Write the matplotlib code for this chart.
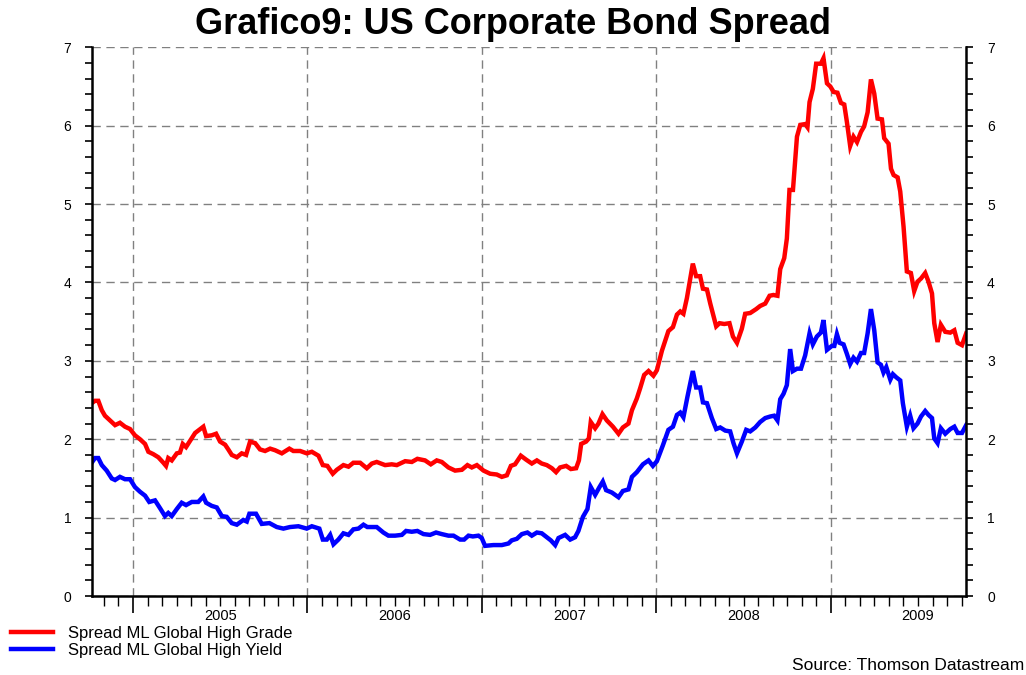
import matplotlib
matplotlib.use('Agg')
import matplotlib.pyplot as plt
from matplotlib.ticker import MultipleLocator, FixedLocator

plt.rcParams['font.family'] = ['Liberation Sans', 'DejaVu Sans']

# dates as decimal years, spreads in percentage points
hg_dates = [2004.763, 2004.782, 2004.801, 2004.821, 2004.839, 2004.868, 2004.897, 2004.925, 2004.954, 2004.983,
            2005.011, 2005.040, 2005.069, 2005.088, 2005.116, 2005.145, 2005.174, 2005.189, 2005.202, 2005.222,
            2005.251, 2005.269, 2005.285, 2005.304, 2005.327, 2005.356, 2005.380, 2005.403, 2005.419, 2005.451,
            2005.476, 2005.499, 2005.528, 2005.546, 2005.566, 2005.595, 2005.623, 2005.648, 2005.671, 2005.700,
            2005.728, 2005.757, 2005.786, 2005.814, 2005.853, 2005.896, 2005.919, 2005.958, 2005.996, 2006.025,
            2006.063, 2006.088, 2006.114, 2006.145, 2006.168, 2006.206, 2006.235, 2006.263, 2006.302, 2006.340,
            2006.369, 2006.397, 2006.445, 2006.483, 2006.512, 2006.560, 2006.598, 2006.630, 2006.674, 2006.707,
            2006.741, 2006.770, 2006.808, 2006.846, 2006.885, 2006.917, 2006.942, 2006.971, 2007.009, 2007.047,
            2007.085, 2007.114, 2007.143, 2007.166, 2007.190, 2007.223, 2007.253, 2007.286, 2007.315, 2007.343,
            2007.372, 2007.401, 2007.425, 2007.448, 2007.483, 2007.510, 2007.540, 2007.556, 2007.569, 2007.597,
            2007.613, 2007.624, 2007.649, 2007.668, 2007.691, 2007.716, 2007.751, 2007.783, 2007.808, 2007.840,
            2007.860, 2007.888, 2007.907, 2007.930, 2007.955, 2007.983, 2008.003, 2008.032, 2008.069, 2008.095,
            2008.118, 2008.137, 2008.155, 2008.175, 2008.209, 2008.228, 2008.251, 2008.267, 2008.290, 2008.309,
            2008.343, 2008.362, 2008.389, 2008.419, 2008.439, 2008.462, 2008.490, 2008.509, 2008.538, 2008.572,
            2008.595, 2008.624, 2008.649, 2008.671, 2008.694, 2008.710, 2008.733, 2008.748, 2008.763, 2008.783,
            2008.806, 2008.825, 2008.853, 2008.866, 2008.878, 2008.897, 2008.916, 2008.943, 2008.958, 2008.978,
            2008.997, 2009.016, 2009.038, 2009.058, 2009.077, 2009.092, 2009.111, 2009.130, 2009.150, 2009.173,
            2009.191, 2009.211, 2009.230, 2009.249, 2009.268, 2009.293, 2009.306, 2009.331, 2009.345, 2009.360,
            2009.383, 2009.398, 2009.417, 2009.436, 2009.459, 2009.478, 2009.497, 2009.517, 2009.541, 2009.560,
            2009.580, 2009.593, 2009.612, 2009.631, 2009.656, 2009.685, 2009.708, 2009.727, 2009.752, 2009.776]
hg_values = [2.46, 2.49, 2.49, 2.37, 2.30, 2.24, 2.18, 2.21, 2.16, 2.13,
             2.05, 2.00, 1.94, 1.84, 1.81, 1.77, 1.70, 1.66, 1.76, 1.73,
             1.82, 1.83, 1.94, 1.90, 1.98, 2.08, 2.12, 2.16, 2.04, 2.05,
             2.07, 1.97, 1.93, 1.87, 1.80, 1.77, 1.82, 1.80, 1.97, 1.95,
             1.87, 1.85, 1.88, 1.86, 1.82, 1.88, 1.85, 1.85, 1.82, 1.84,
             1.79, 1.67, 1.66, 1.56, 1.61, 1.67, 1.65, 1.70, 1.70, 1.63,
             1.69, 1.71, 1.67, 1.68, 1.67, 1.72, 1.71, 1.75, 1.73, 1.68,
             1.73, 1.71, 1.64, 1.60, 1.61, 1.67, 1.64, 1.67, 1.60, 1.56,
             1.55, 1.52, 1.54, 1.66, 1.68, 1.79, 1.74, 1.69, 1.73, 1.69,
             1.67, 1.63, 1.58, 1.64, 1.66, 1.62, 1.63, 1.73, 1.94, 1.97,
             2.01, 2.22, 2.14, 2.20, 2.32, 2.24, 2.16, 2.07, 2.15, 2.20,
             2.37, 2.52, 2.65, 2.82, 2.87, 2.81, 2.88, 3.13, 3.38, 3.43,
             3.59, 3.63, 3.60, 3.80, 4.24, 4.08, 4.08, 3.92, 3.91, 3.73,
             3.44, 3.48, 3.47, 3.48, 3.31, 3.23, 3.41, 3.60, 3.61, 3.66,
             3.70, 3.73, 3.83, 3.84, 3.83, 4.17, 4.31, 4.56, 5.18, 5.18,
             5.86, 6.01, 6.02, 5.98, 6.30, 6.47, 6.79, 6.79, 6.86, 6.54,
             6.50, 6.43, 6.42, 6.29, 6.27, 6.05, 5.74, 5.86, 5.79, 5.92,
             5.99, 6.17, 6.59, 6.41, 6.09, 6.08, 5.84, 5.77, 5.45, 5.37,
             5.34, 5.16, 4.71, 4.14, 4.12, 3.89, 4.01, 4.05, 4.12, 4.01,
             3.86, 3.48, 3.24, 3.46, 3.37, 3.36, 3.39, 3.23, 3.20, 3.35]

hy_dates = [2004.763, 2004.782, 2004.801, 2004.821, 2004.849, 2004.878, 2004.897, 2004.925, 2004.954, 2004.983,
            2005.011, 2005.040, 2005.069, 2005.093, 2005.126, 2005.155, 2005.183, 2005.202, 2005.222, 2005.251,
            2005.279, 2005.304, 2005.337, 2005.374, 2005.403, 2005.419, 2005.451, 2005.480, 2005.509, 2005.537,
            2005.566, 2005.595, 2005.632, 2005.652, 2005.667, 2005.705, 2005.738, 2005.782, 2005.824, 2005.862,
            2005.900, 2005.948, 2005.996, 2006.025, 2006.068, 2006.088, 2006.111, 2006.130, 2006.149, 2006.177,
            2006.206, 2006.235, 2006.263, 2006.292, 2006.321, 2006.343, 2006.397, 2006.435, 2006.464, 2006.502,
            2006.541, 2006.565, 2006.598, 2006.630, 2006.665, 2006.703, 2006.737, 2006.770, 2006.808, 2006.837,
            2006.875, 2006.898, 2006.923, 2006.948, 2006.980, 2006.999, 2007.018, 2007.066, 2007.114, 2007.152,
            2007.171, 2007.200, 2007.229, 2007.261, 2007.286, 2007.315, 2007.343, 2007.372, 2007.395, 2007.420,
            2007.439, 2007.477, 2007.506, 2007.534, 2007.553, 2007.579, 2007.605, 2007.624, 2007.649, 2007.674,
            2007.693, 2007.712, 2007.745, 2007.783, 2007.808, 2007.840, 2007.860, 2007.888, 2007.923, 2007.955,
            2007.980, 2008.003, 2008.037, 2008.069, 2008.095, 2008.118, 2008.137, 2008.155, 2008.178, 2008.209,
            2008.228, 2008.251, 2008.267, 2008.290, 2008.318, 2008.343, 2008.366, 2008.395, 2008.423, 2008.442,
            2008.462, 2008.490, 2008.515, 2008.538, 2008.567, 2008.595, 2008.624, 2008.653, 2008.675, 2008.694,
            2008.710, 2008.729, 2008.748, 2008.767, 2008.783, 2008.806, 2008.829, 2008.853, 2008.878, 2008.897,
            2008.920, 2008.943, 2008.958, 2008.978, 2009.006, 2009.020, 2009.035, 2009.050, 2009.073, 2009.092,
            2009.111, 2009.130, 2009.150, 2009.173, 2009.191, 2009.211, 2009.230, 2009.249, 2009.268, 2009.287,
            2009.302, 2009.318, 2009.341, 2009.356, 2009.375, 2009.398, 2009.413, 2009.436, 2009.455, 2009.474,
            2009.497, 2009.517, 2009.541, 2009.560, 2009.580, 2009.593, 2009.612, 2009.631, 2009.656, 2009.685,
            2009.708, 2009.727, 2009.752, 2009.776]
hy_values = [1.70, 1.76, 1.76, 1.67, 1.60, 1.50, 1.48, 1.52, 1.49, 1.49,
             1.39, 1.33, 1.28, 1.20, 1.22, 1.12, 1.02, 1.06, 1.02, 1.11,
             1.19, 1.16, 1.20, 1.20, 1.27, 1.19, 1.15, 1.13, 1.02, 1.01,
             0.93, 0.91, 0.97, 0.95, 1.05, 1.05, 0.92, 0.93, 0.88, 0.86,
             0.88, 0.89, 0.86, 0.89, 0.86, 0.72, 0.72, 0.78, 0.66, 0.72,
             0.80, 0.78, 0.85, 0.86, 0.91, 0.88, 0.88, 0.81, 0.77, 0.77,
             0.78, 0.83, 0.82, 0.83, 0.79, 0.78, 0.81, 0.79, 0.77, 0.77,
             0.72, 0.72, 0.77, 0.76, 0.77, 0.74, 0.64, 0.65, 0.65, 0.67,
             0.71, 0.73, 0.79, 0.81, 0.77, 0.81, 0.80, 0.75, 0.71, 0.65,
             0.74, 0.78, 0.72, 0.75, 0.83, 1.01, 1.11, 1.39, 1.29, 1.39,
             1.46, 1.35, 1.32, 1.26, 1.34, 1.36, 1.52, 1.58, 1.68, 1.73,
             1.66, 1.72, 1.92, 2.12, 2.16, 2.31, 2.34, 2.28, 2.54, 2.87,
             2.66, 2.66, 2.47, 2.46, 2.27, 2.13, 2.15, 2.11, 2.10, 1.95,
             1.82, 1.97, 2.12, 2.10, 2.15, 2.22, 2.27, 2.29, 2.30, 2.24,
             2.51, 2.58, 2.69, 3.15, 2.87, 2.90, 2.90, 3.07, 3.35, 3.21,
             3.31, 3.36, 3.52, 3.14, 3.19, 3.19, 3.34, 3.23, 3.21, 3.09,
             2.96, 3.04, 2.99, 3.10, 3.10, 3.35, 3.66, 3.39, 2.98, 2.95,
             2.85, 2.92, 2.76, 2.83, 2.79, 2.75, 2.46, 2.16, 2.30, 2.14,
             2.20, 2.29, 2.36, 2.31, 2.27, 2.01, 1.95, 2.14, 2.07, 2.13,
             2.16, 2.08, 2.08, 2.18]

years = [2005, 2006, 2007, 2008, 2009]
series_labels = ['Spread ML Global High Grade', 'Spread ML Global High Yield']

fig = plt.figure(figsize=(10.26, 6.75), dpi=100)
ax = fig.add_axes([0.0897, 0.117, 0.852, 0.813])

l1, = ax.plot(hg_dates, hg_values, color='#ff0000', lw=3.2, solid_joinstyle='miter')
l2, = ax.plot(hy_dates, hy_values, color='#0000ff', lw=3.2, solid_joinstyle='miter')

ax.set_xlim(2004.765, 2009.776)
ax.set_ylim(0, 7)

# grid at years / integer levels, monthly minor ticks on x
ax.set_xticks(years)
ax.set_xticklabels([])
ax.xaxis.set_minor_locator(FixedLocator([2004.75 + m / 12 for m in range(1, 61)]))
ax.yaxis.set_major_locator(MultipleLocator(1))
ax.yaxis.set_minor_locator(MultipleLocator(0.2))
ax.grid(True, which='major', color='#808080', linestyle=(0, (6, 4)), lw=1.0)
ax.set_axisbelow(True)

ax.spines['top'].set_visible(False)
for s in ['left', 'right', 'bottom']:
    ax.spines[s].set_linewidth(1.8)

ax.tick_params(axis='y', which='both', direction='out', length=5, width=1.2,
               left=True, right=True, labelleft=True, labelright=True, labelsize=10, pad=10)
ax.tick_params(axis='x', which='major', direction='out', length=12, width=1.2)
ax.tick_params(axis='x', which='minor', direction='out', length=7, width=1.0)

# year labels centred between the year lines
for y in years:
    ax.text(y + 0.5, -0.16, str(y), ha='center', va='top', fontsize=10.5)

fig.text(0.5, 0.963, 'Grafico9: US Corporate Bond Spread', ha='center', va='center',
         fontsize=26, fontweight='bold')

fig.legend([l1, l2], series_labels, loc='upper left', bbox_to_anchor=(0.011, 0.073),
           frameon=False, fontsize=12, handlelength=2.5, handletextpad=0.9,
           labelspacing=0.15, borderaxespad=0, borderpad=0)

fig.text(0.998, 0.003, 'Source: Thomson Datastream', ha='right', va='bottom', fontsize=12.5)

fig.savefig('out.png', dpi=100)
